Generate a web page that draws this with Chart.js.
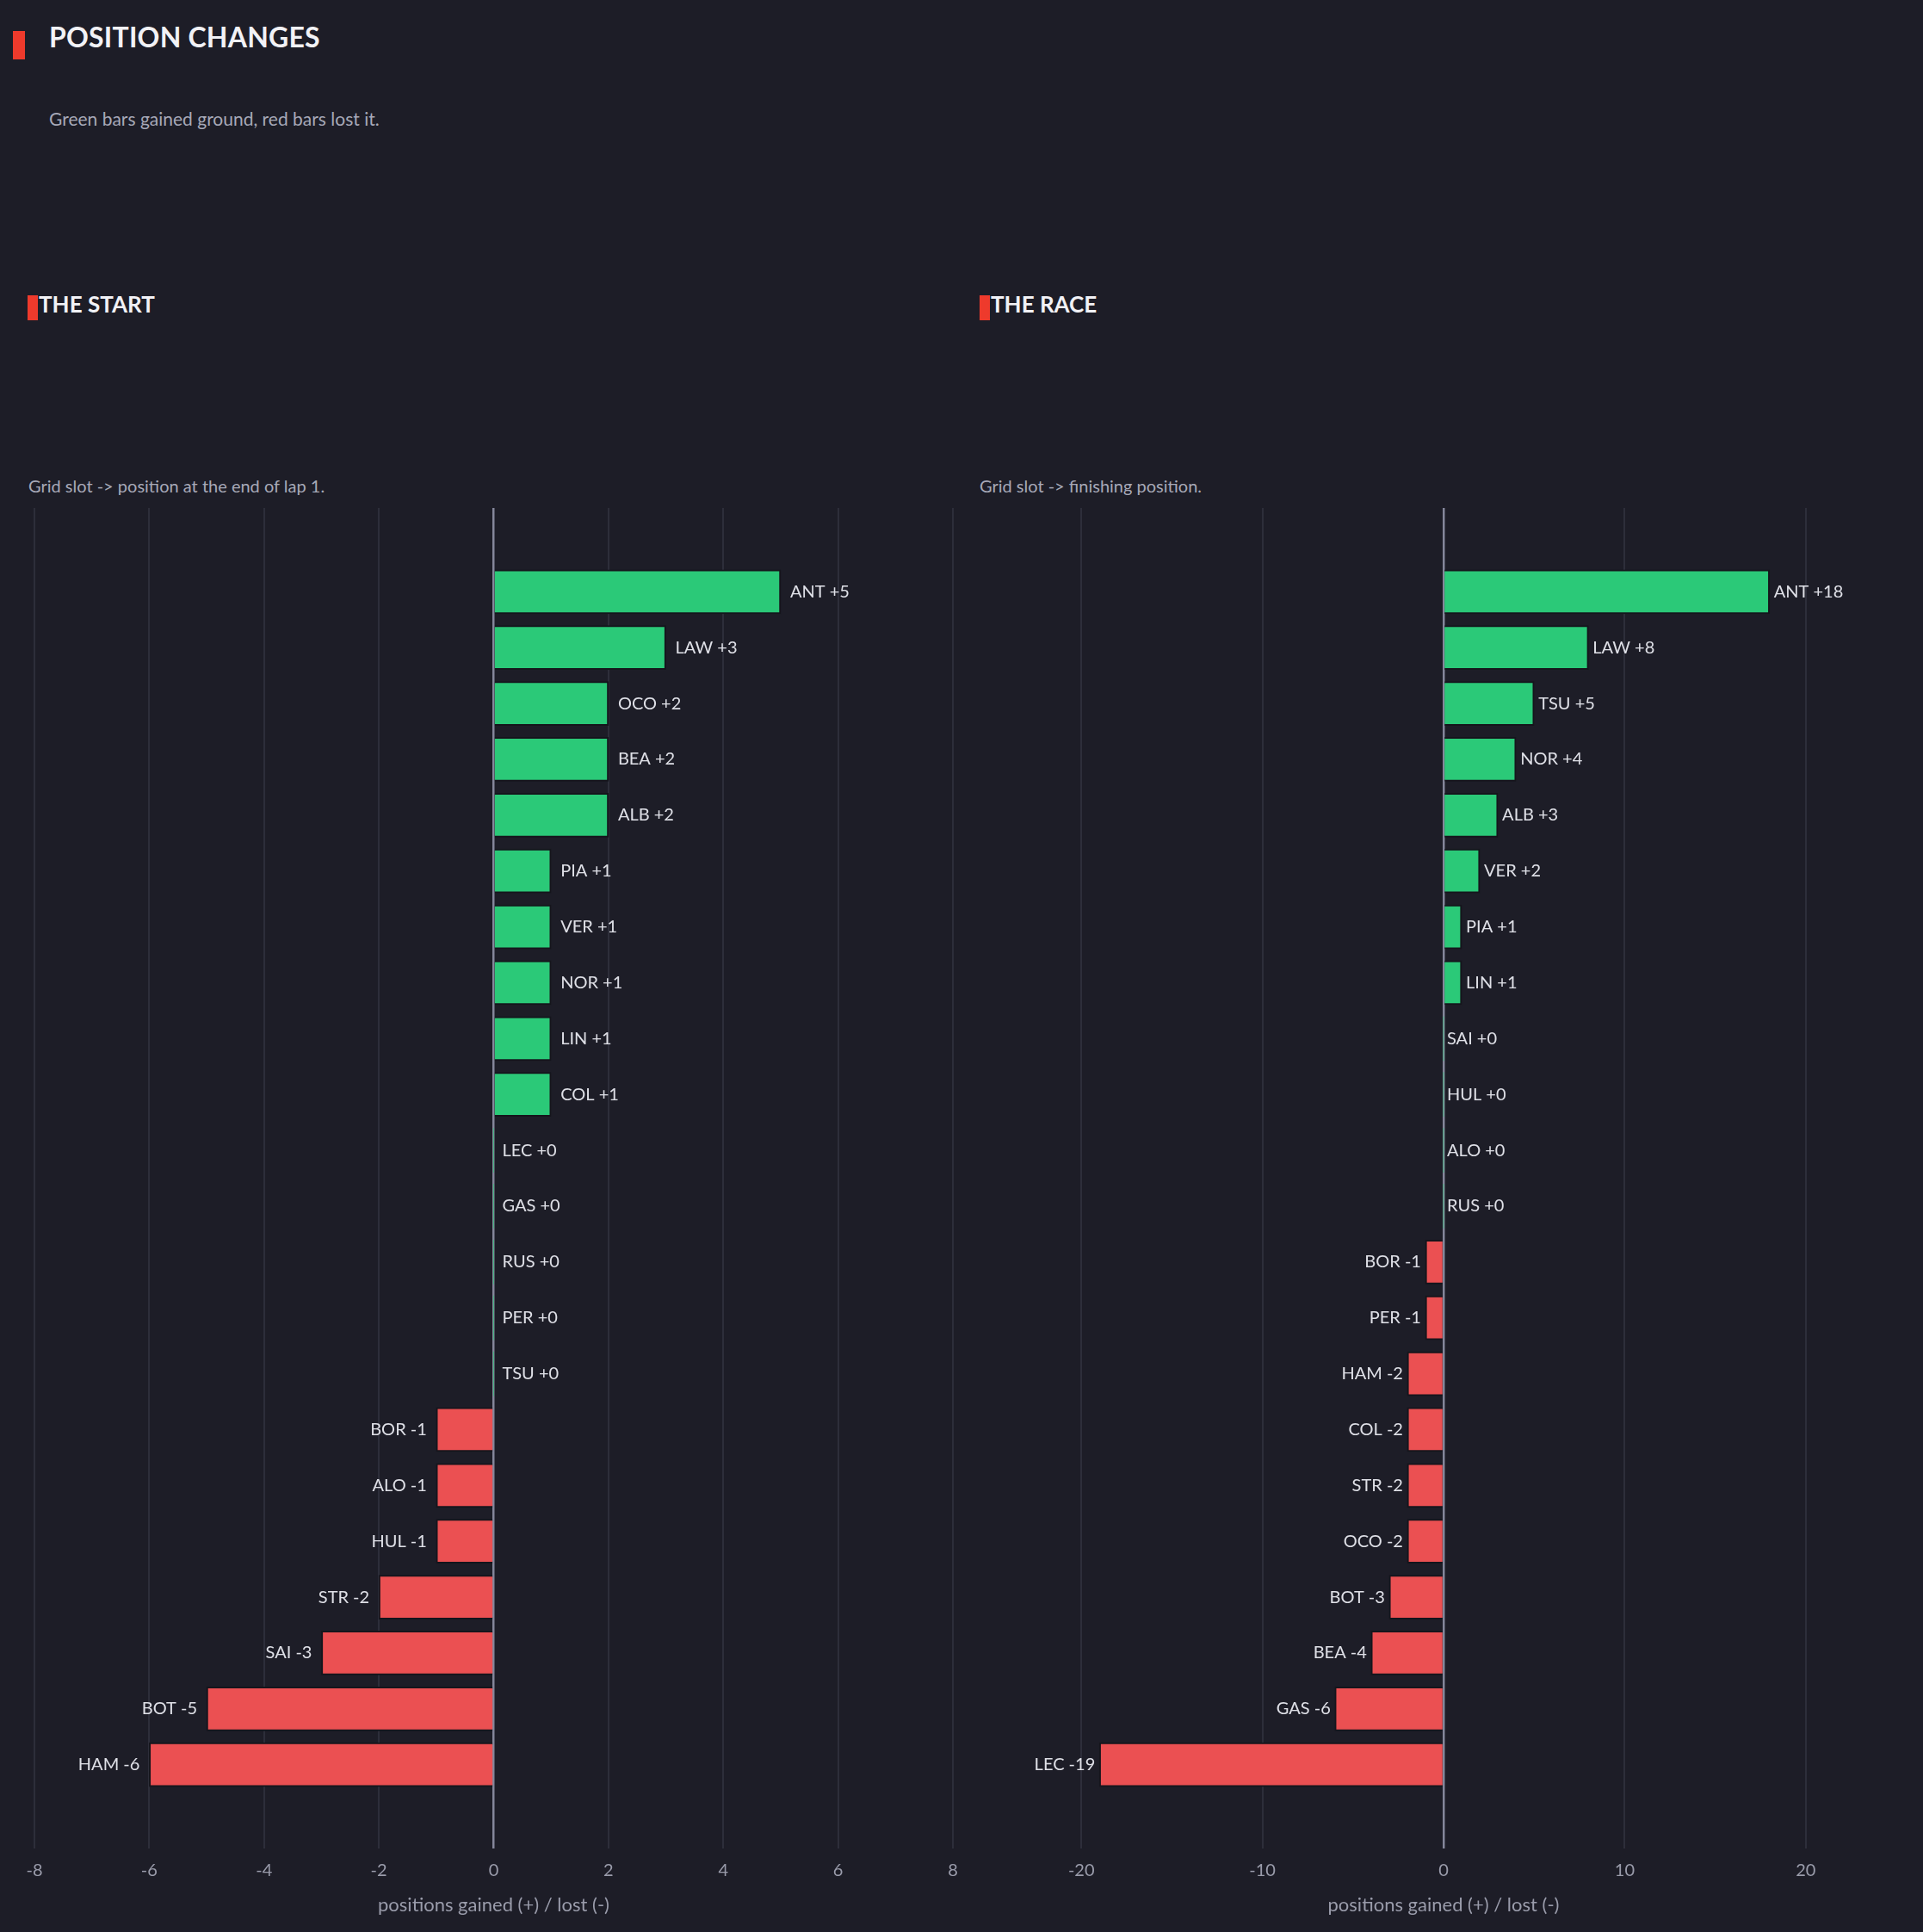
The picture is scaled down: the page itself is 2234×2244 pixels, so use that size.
<!DOCTYPE html>
<html lang="en">
<head>
<meta charset="UTF-8">
<title>Position Changes</title>
<script src="https://cdn.jsdelivr.net/npm/chart.js"></script>
<style>
  html, body { margin: 0; padding: 0; background: #1d1d27; }
  body { width: 2234px; height: 2244px; position: relative; overflow: hidden; font-family: Lato, "Noto Sans", sans-serif; }
  .abs { position: absolute; line-height: 1; white-space: nowrap; margin: 0; }
  .accent { position: absolute; background: #ee3a2c; }
  h1.abs { font-size: 32px; font-weight: 700; color: #f2f2f6; letter-spacing: 0.2px; }
  h2.abs { font-size: 26px; font-weight: 700; color: #f2f2f6; }
  .sub { font-size: 21px; color: #a7a9b8; }
  .note { font-size: 20px; color: #a7a9b8; }
  canvas { position: absolute; }
</style>
</head>
<body>
  <div class="accent" style="left:15px; top:36px; width:14px; height:33px;"></div>
  <h1 class="abs" style="left:57px; top:27px;">POSITION CHANGES</h1>
  <p class="abs sub" style="left:57px; top:127px;">Green bars gained ground, red bars lost it.</p>

  <div class="accent" style="left:32px; top:343px; width:12px; height:29px;"></div>
  <h2 class="abs" style="left:45px; top:340px;">THE START</h2>
  <p class="abs note" style="left:33px; top:554px;">Grid slot -&gt; position at the end of lap 1.</p>

  <div class="accent" style="left:1138px; top:343px; width:12px; height:29px;"></div>
  <h2 class="abs" style="left:1151px; top:340px;">THE RACE</h2>
  <p class="abs note" style="left:1138px; top:554px;">Grid slot -&gt; finishing position.</p>

  <canvas id="startChart" width="1130" height="1664" style="left:0; top:580px;"></canvas>
  <canvas id="raceChart" width="1117" height="1664" style="left:1117px; top:580px;"></canvas>

<script>
// lap 1: grid slot -> end of lap 1
const startDrivers = ['ANT','LAW','OCO','BEA','ALB','PIA','VER','NOR','LIN','COL','LEC','GAS','RUS','PER','TSU','BOR','ALO','HUL','STR','SAI','BOT','HAM'];
const startDelta   = [5, 3, 2, 2, 2, 1, 1, 1, 1, 1, 0, 0, 0, 0, 0, -1, -1, -1, -2, -3, -5, -6];
const startTicks   = [-8, -6, -4, -2, 0, 2, 4, 6, 8];

// race: grid slot -> finishing position
const raceDrivers = ['ANT','LAW','TSU','NOR','ALB','VER','PIA','LIN','SAI','HUL','ALO','RUS','BOR','PER','HAM','COL','STR','OCO','BOT','BEA','GAS','LEC'];
const raceDelta   = [18, 8, 5, 4, 3, 2, 1, 1, 0, 0, 0, 0, -1, -1, -2, -2, -2, -2, -3, -4, -6, -19];
const raceTicks   = [-20, -10, 0, 10, 20];

const GREEN = '#2bc978';
const RED = '#eb5052';
const FONT = 'Lato, "Noto Sans", sans-serif';

// text next to each bar
const barLabels = {
  id: 'barLabels',
  afterDatasetsDraw(chart, args, opts) {
    const ctx = chart.ctx;
    const meta = chart.getDatasetMeta(0);
    const values = chart.data.datasets[0].data;
    ctx.save();
    ctx.font = '20px ' + FONT;
    ctx.fillStyle = '#dfe0e7';
    ctx.textBaseline = 'middle';
    meta.data.forEach((bar, i) => {
      const v = values[i];
      if (v === null) return;
      const txt = chart.data.labels[i] + ' ' + (v >= 0 ? '+' : '') + v;
      if (v < 0) {
        ctx.textAlign = 'right';
        ctx.fillText(txt, bar.x - opts.gap, bar.y);
      } else {
        ctx.textAlign = 'left';
        ctx.fillText(txt, bar.x + (v === 0 ? opts.zeroGap : opts.gap), bar.y);
      }
    });
    ctx.restore();
  }
};

function makeChart(id, drivers, deltas, ticks, range, pad, gap, zeroGap) {
  // one empty slot above and below the drivers, as in the original
  const labels = [''].concat(drivers, ['']);
  const values = [null].concat(deltas, [null]);
  return new Chart(document.getElementById(id), {
    type: 'bar',
    data: {
      labels: labels,
      datasets: [{
        data: values,
        backgroundColor: values.map(v => v >= 0 ? GREEN : RED),
        borderColor: '#15151c',
        borderWidth: values.map(v => v ? 2 : 0),
        barThickness: 51
      }]
    },
    options: {
      indexAxis: 'y',
      responsive: false,
      animation: false,
      layout: { padding: { top: 10, left: pad[0], right: pad[1], bottom: 0 } },
      plugins: {
        legend: { display: false },
        tooltip: { enabled: false },
        barLabels: { gap: gap, zeroGap: zeroGap }
      },
      scales: {
        y: { display: false },
        x: {
          min: range[0],
          max: range[1],
          afterBuildTicks: s => { s.ticks = ticks.map(v => ({ value: v })); },
          afterFit: s => { s.height = 97; },
          border: { display: false },
          grid: {
            drawTicks: false,
            color: c => c.tick && c.tick.value === 0 ? '#84869a' : '#2d2e3a',
            lineWidth: c => c.tick && c.tick.value === 0 ? 2.5 : 2
          },
          ticks: { color: '#9a9cab', padding: 14, font: { family: FONT, size: 20 } },
          title: {
            display: true,
            text: 'positions gained (+) / lost (-)',
            color: '#9a9cab',
            font: { family: FONT, size: 22 },
            padding: { top: 0, bottom: 18 }
          }
        }
      }
    },
    plugins: [barLabels]
  });
}

makeChart('startChart', startDrivers, startDelta, startTicks, [-8, 8], [40, 23], 11, 10);
makeChart('raceChart', raceDrivers, raceDelta, raceTicks, [-25, 25], [34, 31], 5, 4);
</script>
</body>
</html>
